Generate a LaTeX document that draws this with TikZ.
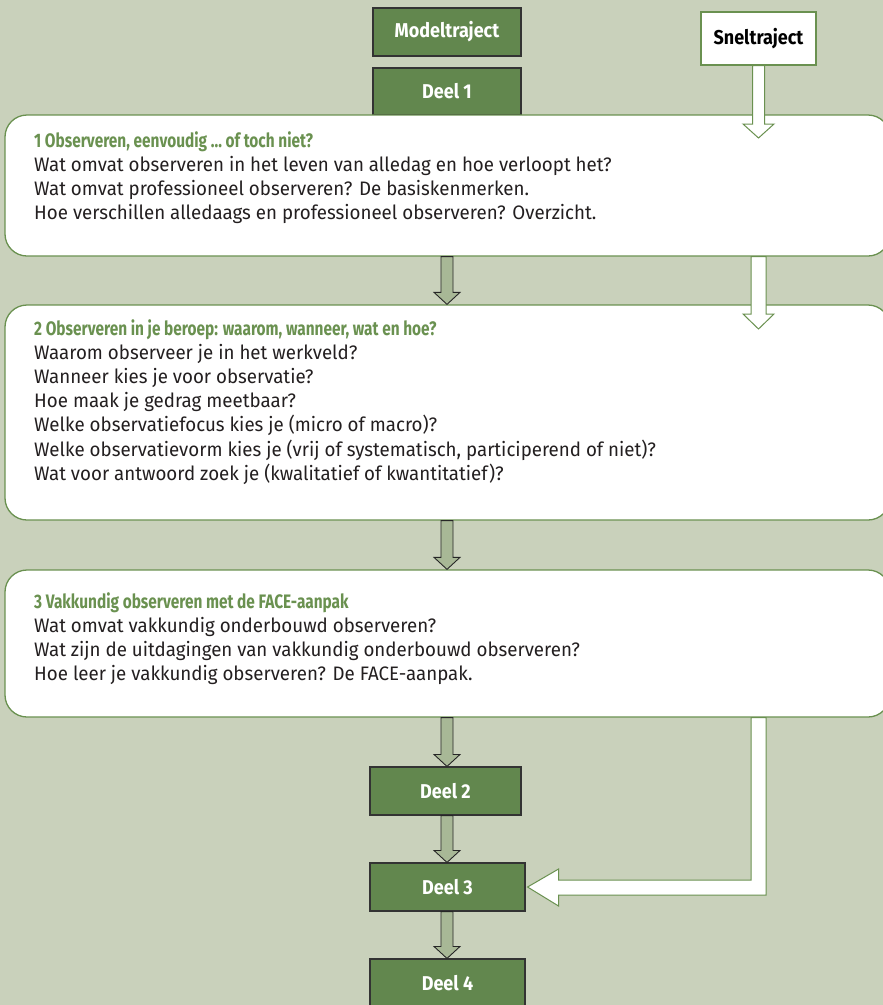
\documentclass[tikz,border=0pt]{standalone}
\usepackage{fontspec}
\setmainfont[FakeStretch=0.96]{Fira Sans}
\newfontfamily\condfont[FakeStretch=0.79]{Fira Sans}
\newfontfamily\labelfont[FakeStretch=0.9]{Fira Sans}
\usetikzlibrary{calc}
\definecolor{bg}{RGB}{201,209,187}
\definecolor{grn}{RGB}{106,145,80}
\definecolor{deelfill}{RGB}{98,135,78}
\definecolor{arrfill}{RGB}{168,184,150}
\definecolor{ink}{RGB}{35,31,32}
% style, top point, tip point, shaft half width, head half width, head length
\newcommand\blockdn[6]{\path[#1] let \p1=#2, \p2=#3 in
  (\x1-#4pt,\y1) -- (\x1+#4pt,\y1) -- (\x1+#4pt,\y2+#6pt) -- (\x1+#5pt,\y2+#6pt)
  -- (\x1,\y2) -- (\x1-#5pt,\y2+#6pt) -- (\x1-#4pt,\y2+#6pt) -- cycle;}
\tikzset{
  deelbox/.style={draw=black!80, line width=1.1pt, fill=deelfill, text=white,
    font=\labelfont\bfseries\fontsize{20}{22}\selectfont, minimum width=148, minimum height=48, inner sep=0},
  snelbox/.style={draw=grn, line width=1.1pt, fill=white, text=black,
    font=\labelfont\bfseries\fontsize{20}{22}\selectfont, minimum width=115, minimum height=53, inner sep=0},
  topic/.style={draw=grn, line width=1.3pt, fill=white, rounded corners=22pt,
    minimum width=885, inner sep=0},
  line/.style={anchor=base west, inner sep=0, text=ink, font=\fontsize{19.5}{22}\selectfont},
  title/.style={line, text=grn, font=\condfont\bfseries\fontsize{19.5}{22}\selectfont},
  grayarrow/.style={draw=black!85, line width=0.9pt, fill=arrfill},
  whitearrow/.style={draw=grn, line width=1pt, fill=white},
}
\begin{document}
\begin{tikzpicture}[x=1pt,y=-1pt]
\useasboundingbox (0,0) rectangle (883,1005);
\clip (0,0) rectangle (883,1005);
\fill[bg] (0,0) rectangle (883,1005);

\node[deelbox] (model) at (447,32) {Modeltraject};
\node[deelbox, minimum height=47] (d1) at (447,91.5) {Deel 1};
\node[snelbox] (snel) at (758.5,38.5) {Sneltraject};

\node[topic, minimum height=141] (b1) at (447.5,185.5) {};
\node[topic, minimum height=215] (b2) at (447.5,412.5) {};
\node[topic, minimum height=147] (b3) at (447.5,643.5) {};

% box 1 text
\node[title] (t1) at (34,147) {1 Observeren, eenvoudig … of toch niet?};
\foreach \t [count=\i] in {
  {Wat omvat observeren in het leven van alledag en hoe verloopt het?},
  {Wat omvat professioneel observeren? De basiskenmerken.},
  {Hoe verschillen alledaags en professioneel observeren? Overzicht.}}
  \node[line] (t1l\i) at (34,147+24.2*\i) {\t};

% box 2 text
\node[title] (t2) at (34,335) {2 Observeren in je beroep: waarom, wanneer, wat en hoe?};
\foreach \t [count=\i] in {
  {Waarom observeer je in het werkveld?},
  {Wanneer kies je voor observatie?},
  {Hoe maak je gedrag meetbaar?},
  {Welke observatiefocus kies je (micro of macro)?},
  {Welke observatievorm kies je (vrij of systematisch, participerend of niet)?},
  {Wat voor antwoord zoek je (kwalitatief of kwantitatief)?}}
  \node[line] (t2l\i) at (34,335+24.2*\i) {\t};

% box 3 text
\node[title] (t3) at (34,608) {3 Vakkundig observeren met de FACE-aanpak};
\foreach \t [count=\i] in {
  {Wat omvat vakkundig onderbouwd observeren?},
  {Wat zijn de uitdagingen van vakkundig onderbouwd observeren?},
  {Hoe leer je vakkundig observeren? De FACE-aanpak.}}
  \node[line] (t3l\i) at (34,608+24.2*\i) {\t};

\node[deelbox, minimum width=151] (d2) at (445.5,791) {Deel 2};
\node[deelbox, minimum width=155] (d3) at (447.5,887) {Deel 3};
\node[deelbox, minimum width=155] (d4) at (447.5,983) {Deel 4};

% gray connectors
\blockdn{grayarrow}{(b1.south -| model.south)}{(b2.north -| model.south)}{6}{13}{12}
\blockdn{grayarrow}{(b2.south -| model.south)}{(b3.north -| model.south)}{6}{13}{12}
\blockdn{grayarrow}{(b3.south -| model.south)}{(d2.north -| model.south)}{6}{13}{12}
\blockdn{grayarrow}{(d2.south -| model.south)}{(d3.north -| model.south)}{6}{13}{12}
\blockdn{grayarrow}{(d3.south -| model.south)}{(d4.north -| model.south)}{6}{13}{12}

% white (sneltraject) connectors
\coordinate (s1tip) at (758.5,138);
\coordinate (s2tip) at (758.5,329);
\blockdn{whitearrow}{(snel.south)}{(s1tip)}{6}{15.5}{14}
\blockdn{whitearrow}{(b1.south -| snel.south)}{(s2tip)}{7.5}{15.5}{15}
\path[whitearrow] let \p1=(b3.south -| snel.south), \p2=(d3.east) in
  (\x1-7.5pt,\y1) -- (\x1+7.5pt,\y1) -- (\x1+7.5pt,\y2-8pt) -- (\x2+33pt,\y2-8pt)
  -- (\x2+33pt,\y2-19pt) -- (\x2+2pt,\y2) -- (\x2+33pt,\y2+18pt)
  -- (\x2+33pt,\y2+7pt) -- (\x1-7.5pt,\y2+7pt) -- cycle;
\end{tikzpicture}
\end{document}
